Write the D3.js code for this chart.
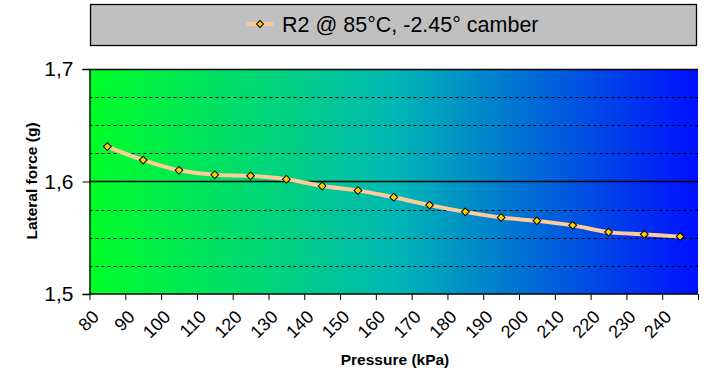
<!DOCTYPE html>
<html><head><meta charset="utf-8">
<script src="https://cdn.jsdelivr.net/npm/d3@7"></script>
<style>body{margin:0;background:#fff}svg{display:block}text{font-family:"Liberation Sans",Arial,sans-serif}</style>
</head><body><div id="chart"></div>
<script>
const pressures = [85,95,105,115,125,135,145,155,165,175,185,195,205,215,225,235,245];
const lateral = [1.631,1.619,1.610,1.606,1.605,1.602,1.596,1.592,1.586,1.579,1.573,1.568,1.565,1.561,1.555,1.553,1.551];
const xTickValues = [80,90,100,110,120,130,140,150,160,170,180,190,200,210,220,230,240,250];
const xTickLabels = ["80","90","100","110","120","130","140","150","160","170","180","190","200","210","220","230","240"];
const yMajor = [1.5,1.6,1.7];
const yMajorLabels = ["1,5","1,6","1,7"];
const yMinor = [1.525,1.55,1.575,1.625,1.65,1.675];
const seriesName = "R2 @ 85°C, -2.45° camber";

const W=712,H=391;
const svg=d3.select("#chart").append("svg").attr("width",W).attr("height",H);
const L=89.5,R=698,T=69,B=294;
const x=d3.scaleLinear().domain([80,250]).range([L,R]);
const y=d3.scaleLinear().domain([1.5,1.7]).range([B,T]);

const defs=svg.append("defs");
const g=defs.append("linearGradient").attr("id","bg").attr("x1","0").attr("x2","1").attr("y1","0").attr("y2","0");
g.append("stop").attr("offset","0").attr("stop-color","#00ff26");
g.append("stop").attr("offset","0.5").attr("stop-color","#00b8b4");
g.append("stop").attr("offset","1").attr("stop-color","#0010ff");
svg.append("rect").attr("x",L).attr("y",T).attr("width",R-L).attr("height",B-T).attr("fill","url(#bg)");

svg.append("g").selectAll("line").data(yMinor).join("line")
  .attr("x1",L).attr("x2",R).attr("y1",d=>Math.round(y(d))+0.5).attr("y2",d=>Math.round(y(d))+0.5)
  .attr("stroke","#000").attr("stroke-width",1).attr("stroke-dasharray","3,3");
svg.append("g").selectAll("line").data(yMajor.filter(d=>d>1.5)).join("line")
  .attr("x1",L).attr("x2",R).attr("y1",d=>Math.round(y(d))+0.5).attr("y2",d=>Math.round(y(d))+0.5)
  .attr("stroke","#000").attr("stroke-width",1.3);

const yAxis=svg.append("g").attr("transform",`translate(${L},0)`)
  .call(d3.axisLeft(y).tickValues(yMajor).tickSize(7).tickPadding(9).tickFormat((d,i)=>yMajorLabels[i]));
yAxis.select(".domain").attr("stroke","#000").attr("stroke-width",1.3);
yAxis.selectAll("text").attr("font-size",21).attr("fill","#000").attr("font-family","Liberation Sans, Arial, sans-serif");

const xAxis=svg.append("g").attr("transform",`translate(0,${B})`)
  .call(d3.axisBottom(x).tickValues(xTickValues).tickSize(6).tickFormat((d,i)=>xTickLabels[i]||""));
xAxis.select(".domain").attr("stroke","#000").attr("stroke-width",1.3).attr("d",`M${L},0H${R}`);
xAxis.selectAll("text").attr("font-size",18).attr("fill","#000")
  .attr("font-family","Liberation Sans, Arial, sans-serif")
  .attr("text-anchor","end").attr("dy",0).attr("y",0)
  .attr("transform","translate(10,24) rotate(-45)");

const line=d3.line().x((d,i)=>x(pressures[i])).y(d=>y(d)).curve(d3.curveCardinal.tension(0));
svg.append("path").datum(lateral).attr("d",line).attr("fill","none").attr("stroke","#ffcc99").attr("stroke-width",4);
svg.append("g").selectAll("path").data(lateral).join("path")
  .attr("d",d3.symbol().type(d3.symbolSquare).size(30))
  .attr("transform",(d,i)=>`translate(${x(pressures[i])},${y(d)}) rotate(45)`)
  .attr("fill","#ffcc00").attr("stroke","#000").attr("stroke-width",1);

svg.append("text").attr("transform",`translate(37,181) rotate(-90)`).attr("text-anchor","middle")
  .attr("font-size",15.5).attr("font-weight","bold").text("Lateral force (g)");
svg.append("text").attr("x",395).attr("y",365).attr("text-anchor","middle")
  .attr("font-size",15.5).attr("font-weight","bold").text("Pressure (kPa)");

svg.append("rect").attr("x",90.5).attr("y",4.5).attr("width",606).attr("height",41).attr("fill","#c0c0c0").attr("stroke","#000").attr("stroke-width",1.3);
svg.append("line").attr("x1",247).attr("x2",273).attr("y1",24).attr("y2",24).attr("stroke","#ffcc99").attr("stroke-width",4);
svg.append("path").attr("d",d3.symbol().type(d3.symbolSquare).size(24)).attr("transform","translate(260,24) rotate(45)")
  .attr("fill","#ffcc00").attr("stroke","#000").attr("stroke-width",1);
svg.append("text").attr("x",282).attr("y",32).attr("font-size",21.5).text(seriesName);
</script></body></html>
